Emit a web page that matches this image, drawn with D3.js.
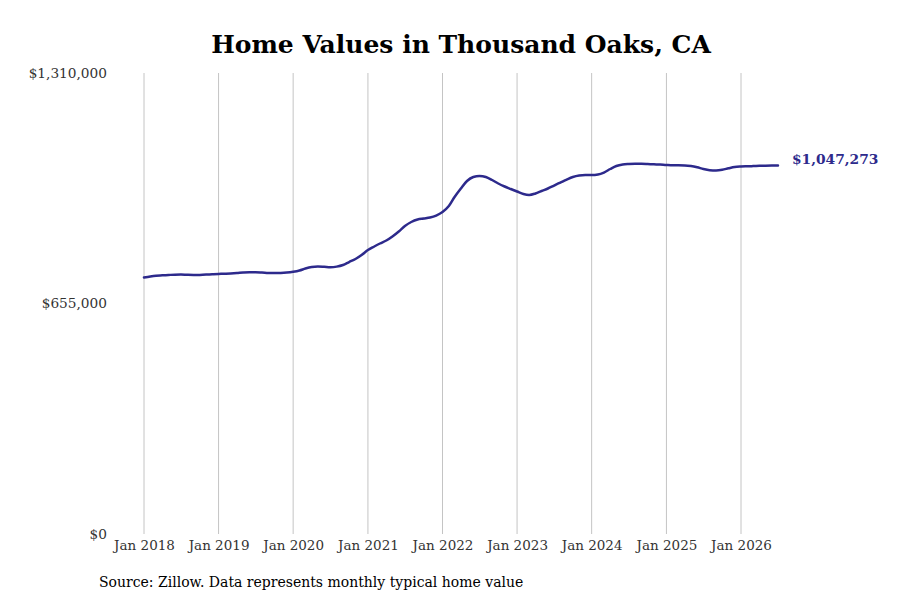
<!DOCTYPE html>
<html>
<head>
<meta charset="utf-8">
<script src="https://cdn.jsdelivr.net/npm/d3@7"></script>
<style>
  html, body { margin: 0; padding: 0; background: #fff; }
  svg { display: block; font-family: "DejaVu Serif", serif; }
</style>
</head>
<body>
<svg id="chart" width="900" height="600"></svg>
<script>
// ---- Data (monthly typical home value, Thousand Oaks, CA) ----
const startMonth = "2018-01";
const values = [
  729000, 732000, 734000, 735000, 736000, 737000, 737400, 736500, 736000, 736300, 737100, 738200,
  739100, 739700, 740500, 741700, 743100, 743900, 743900, 743100, 741900, 741400, 741700, 742800,
  745100, 748800, 754400, 758700, 760100, 759300, 758200, 759800, 764400, 772900, 781400, 792800,
  807000, 817000, 825500, 834000, 845400, 859600, 875200, 886600, 893700, 896500, 899400, 905000,
  915000, 932000, 957600, 981800, 1003100, 1014500, 1017300, 1014500, 1005900, 996000, 987500, 980400,
  973200, 966100, 963300, 967600, 974700, 981800, 990300, 998800, 1007300, 1014500, 1018700, 1020100,
  1020100, 1021600, 1027200, 1037200, 1045700, 1050000, 1051400, 1052000, 1052000, 1051400, 1050500, 1049700,
  1048500, 1047700, 1047700, 1047400, 1045700, 1042000, 1037200, 1033800, 1032900, 1034900, 1039200, 1042900,
  1044300, 1044900, 1045400, 1046300, 1046600, 1047000, 1047273
];
const xTickLabels = ["Jan 2018","Jan 2019","Jan 2020","Jan 2021","Jan 2022","Jan 2023","Jan 2024","Jan 2025","Jan 2026"];
const yTickValues = [0, 655000, 1310000];
const titleText = "Home Values in Thousand Oaks, CA";
const sourceText = "Source: Zillow. Data represents monthly typical home value";

// ---- Build ----
const parseMonth = d3.timeParse("%Y-%m");
const start = parseMonth(startMonth);
const data = values.map((v, i) => ({ date: d3.timeMonth.offset(start, i), value: v }));
const tickDates = xTickLabels.map(s => d3.timeParse("%b %Y")(s));

const svg = d3.select("#chart");
const lineColor = "#2d2a8c";

const x = d3.scaleTime()
  .domain([tickDates[0], tickDates[tickDates.length - 1]])
  .range([144, 741]);
const y = d3.scaleLinear()
  .domain([0, 1310000])
  .range([534, 73]);

// Title
svg.append("text")
  .attr("x", 461).attr("y", 53)
  .attr("text-anchor", "middle")
  .attr("font-size", 25).attr("font-weight", "bold")
  .attr("fill", "#000")
  .text(titleText);

// Vertical gridlines
svg.append("g")
  .selectAll("line")
  .data(tickDates)
  .join("line")
  .attr("x1", d => x(d)).attr("x2", d => x(d))
  .attr("y1", y(1310000)).attr("y2", y(0))
  .attr("stroke", "#c4c4c4").attr("stroke-width", 1);

// X axis labels
const xAxis = d3.axisBottom(x)
  .tickValues(tickDates)
  .tickFormat(d3.timeFormat("%b %Y"))
  .tickSize(0).tickPadding(0);
const gx = svg.append("g").attr("transform", `translate(0, ${y(0) + 5})`).call(xAxis);
gx.select(".domain").remove();
gx.selectAll("text")
  .attr("font-family", "DejaVu Serif, serif")
  .attr("font-size", 13.5).attr("fill", "#333")
  .attr("dy", "0.85em");

// Y axis labels
const yAxis = d3.axisLeft(y)
  .tickValues(yTickValues)
  .tickFormat(d => "$" + d3.format(",")(d))
  .tickSize(0).tickPadding(0);
const gy = svg.append("g").attr("transform", `translate(107, 0)`).call(yAxis);
gy.select(".domain").remove();
gy.selectAll("text")
  .attr("font-family", "DejaVu Serif, serif")
  .attr("font-size", 13.7).attr("fill", "#333");

// Line
const line = d3.line()
  .x(d => x(d.date))
  .y(d => y(d.value))
  .curve(d3.curveMonotoneX);
svg.append("path")
  .datum(data)
  .attr("d", line)
  .attr("fill", "none")
  .attr("stroke", lineColor)
  .attr("stroke-width", 2.5)
  .attr("stroke-linejoin", "round")
  .attr("stroke-linecap", "round");

// End label
const last = data[data.length - 1];
svg.append("text")
  .attr("x", x(last.date) + 14)
  .attr("y", y(last.value) - 5)
  .attr("dominant-baseline", "middle")
  .attr("font-size", 13.8).attr("font-weight", "bold")
  .attr("fill", lineColor)
  .text("$" + d3.format(",")(last.value));

// Source
svg.append("text")
  .attr("x", 99).attr("y", 587)
  .attr("font-size", 14).attr("fill", "#000")
  .text(sourceText);
</script>
</body>
</html>
